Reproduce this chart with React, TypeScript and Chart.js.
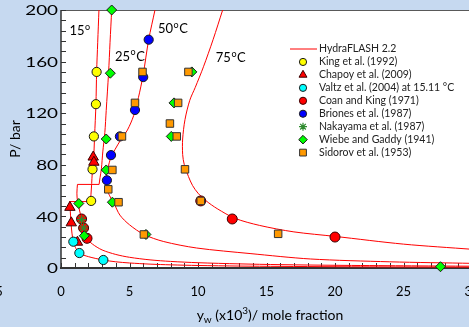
import React, { useEffect, useRef } from "react";
import { Chart, registerables } from "chart.js";
import { drawPoint } from "chart.js/helpers";

Chart.register(...registerables);

// ---------- axis ticks ----------
const xTickLabels = [0, 5, 10, 15, 20, 25, 30];
const yTickLabels = [0, 40, 80, 120, 160, 200];
const X_MINOR_STEP = 1;
const Y_MINOR_STEP = 8;

// ---------- HydraFLASH 2.2 isotherms  [y_w x10^3, P bar] ----------
const iso15Liquid: number[][] = [[2.77, 200], [2.68, 175], [2.6, 152], [2.55, 127], [2.45, 102], [2.38, 84], [2.3, 76.5], [2.22, 62], [2.15, 51.5]];
const iso15Gas: number[][] = [[0.62, 51.5], [0.66, 47], [0.73, 35], [0.8, 27], [0.9, 20.4], [1.05, 16], [1.34, 11.6], [2.0, 8.8], [3.09, 6.2], [4, 4.8], [5, 3.9], [6.5, 3.0], [8, 2.45], [10, 1.95], [13, 1.5], [16, 1.25], [20, 1.0], [25, 0.8], [30, 0.67]];
const iso25Liquid: number[][] = [[3.7, 200], [3.58, 175], [3.47, 151], [3.3, 122], [3.2, 105], [3.05, 90], [2.95, 77], [2.85, 70], [2.78, 64.8]];
const iso25Gas: number[][] = [[1.2, 64.8], [1.16, 58], [1.2, 52], [1.3, 47], [1.5, 38], [1.65, 31], [1.9, 23], [2.3, 18.5], [3, 14], [4, 10.5], [5, 8.3], [6.5, 6.3], [8, 5.1], [10, 4.1], [13, 3.2], [16, 2.6], [20, 2.1], [25, 1.7], [30, 1.4]];
const iso50: number[][] = [[6.86, 200], [6.4, 177], [6.0, 150], [5.65, 132], [5.3, 118], [4.85, 107], [4.4, 100], [3.95, 92], [3.65, 86], [3.42, 77], [3.3, 68], [3.35, 61], [3.6, 55], [3.85, 50.5], [4.3, 41], [5.0, 33.5], [6.05, 26], [7.5, 20.5], [9.9, 15.5], [13.8, 11.2], [18.2, 7], [24, 4.8], [30, 3.6]];
const iso75: number[][] = [[11.8, 200], [11.1, 177], [10.4, 156], [9.8, 140], [9.4, 130], [9.05, 115], [8.88, 100], [8.88, 88], [9.0, 80], [9.3, 71], [9.6, 64], [10.0, 58], [10.6, 52], [11.4, 46], [12.7, 38.5], [14.5, 33], [17, 28], [20, 24.5], [25, 18.5], [30, 14.5]];

// ---------- experimental data [y_w x10^3, P bar] ----------
const king: number[][] = [[2.6, 152], [2.55, 127], [2.4, 102], [2.3, 76.5], [2.2, 52]];
const chapoy: number[][] = [[2.35, 86], [2.4, 82], [0.65, 47], [0.75, 35], [1.2, 20]];
const valtz: number[][] = [[0.9, 20.4], [1.34, 11.6], [3.09, 6.2]];
const coan: number[][] = [[1.5, 38], [1.65, 31], [1.9, 23], [10.2, 52], [12.5, 38], [20, 24]];
const briones: number[][] = [[6.4, 177], [6.0, 148], [5.4, 122.5], [4.3, 102], [3.65, 87.5], [3.35, 68]];
const nakayama: number[][] = [[1.5, 37.5], [1.65, 31]];
const wiebe: number[][] = [[3.7, 200], [3.6, 151], [3.3, 100], [3.3, 76], [1.3, 50], [3.75, 51], [1.7, 25], [8.25, 128], [8.05, 102], [9.55, 152], [6.2, 26], [27.7, 1]];
const sidorov: number[][] = [[5.95, 152], [5.4, 128], [4.45, 102], [3.75, 76], [3.45, 61], [4.2, 51], [9.3, 152], [7.95, 112], [8.55, 128], [8.45, 102], [9.05, 76.5], [10.2, 52], [6.05, 26], [15.85, 26.5]];

// isotherm labels [text, x, P]
const isoLabels: [string, string, number, number][] = [
  ["15", "", 0.62, 180.6],
  ["25", "C", 3.94, 160.5],
  ["50", "C", 7.08, 182],
  ["75", "C", 11.3, 159.7],
];

const LINE_LABEL = "HydraFLASH 2.2";
const BG = "#C6D9F0";
const FONT = "Lato, 'Open Sans', sans-serif";

const xy = (a: number[][]) => a.map(([x, y]) => ({ x, y }));

type Mk = { label: string; data: number[][]; style: string; r: number; bg: string; bd: string; bw: number; order: number; lr: number };
const markers: Mk[] = [
  { label: "King et al. (1992)", data: king, style: "circle", r: 4.6, bg: "#FFFF00", bd: "#1a1a1a", bw: 1, order: 7, lr: 3.6 },
  { label: "Chapoy et al. (2009)", data: chapoy, style: "triangle", r: 6, bg: "#FF0000", bd: "#3a0000", bw: 1, order: 6, lr: 4.6 },
  { label: "Valtz et al. (2004) at 15.11 \u00B0C", data: valtz, style: "circle", r: 4.6, bg: "#00FFFF", bd: "#1a1a1a", bw: 1, order: 5, lr: 3.6 },
  { label: "Coan and King (1971)", data: coan, style: "circle", r: 5, bg: "#FF0000", bd: "#3a0000", bw: 1, order: 4, lr: 3.6 },
  { label: "Briones et al. (1987)", data: briones, style: "circle", r: 4.6, bg: "#0000FF", bd: "#1a1a1a", bw: 1, order: 3, lr: 3.6 },
  { label: "Nakayama et al. (1987)", data: nakayama, style: "star", r: 4.5, bg: "#2E8B2E", bd: "#2E8B2E", bw: 1.2, order: 2, lr: 4 },
  { label: "Wiebe and Gaddy (1941)", data: wiebe, style: "rectRot", r: 5, bg: "#00FF00", bd: "#1a1a1a", bw: 1, order: 1, lr: 4.3 },
  { label: "Sidorov et al. (1953)", data: sidorov, style: "rect", r: 5.3, bg: "#FF9900", bd: "#333333", bw: 1, order: 0, lr: 4.8 },
];

function lineDs(a: number[][], tension: number) {
  return {
    label: LINE_LABEL,
    data: xy(a),
    showLine: true,
    borderColor: "#FF0000",
    backgroundColor: "#FF0000",
    borderWidth: 1,
    pointRadius: 0,
    tension,
    order: 10,
  };
}

function drawSup(ctx: CanvasRenderingContext2D, x: number, y: number, main: string, tail: string, size: number) {
  ctx.font = `${size}px ${FONT}`;
  ctx.textAlign = "left";
  ctx.textBaseline = "alphabetic";
  ctx.fillText(main, x, y);
  let cx = x + ctx.measureText(main).width + 0.5;
  ctx.font = `${Math.round(size * 0.68)}px ${FONT}`;
  ctx.fillText("o", cx, y - size * 0.42);
  cx += ctx.measureText("o").width + 0.5;
  if (tail) {
    ctx.font = `${size}px ${FONT}`;
    ctx.fillText(tail, cx, y);
  }
}

const bgPlugin = {
  id: "bgPlugin",
  beforeDraw(chart: any) {
    const { ctx, chartArea: a } = chart;
    ctx.save();
    ctx.fillStyle = BG;
    ctx.fillRect(0, 0, chart.width, chart.height);
    ctx.fillStyle = "#FFFFFF";
    ctx.fillRect(a.left, a.top, a.right - a.left, a.bottom - a.top);
    ctx.restore();
  },
  beforeDatasetsDraw(chart: any) {
    const { ctx, chartArea: a, scales } = chart;
    const xs = scales.x, ys = scales.y;
    ctx.save();
    ctx.strokeStyle = "#595959";
    ctx.lineWidth = 1;
    ctx.beginPath();
    ctx.moveTo(a.left, a.top + 0.5);
    ctx.lineTo(a.right, a.top + 0.5);
    ctx.moveTo(a.right - 0.5, a.top);
    ctx.lineTo(a.right - 0.5, a.bottom);
    ctx.stroke();
    ctx.strokeStyle = "#333333";
    ctx.beginPath();
    for (let v = xs.min; v <= xs.max + 1e-9; v += X_MINOR_STEP) {
      const px = Math.round(xs.getPixelForValue(v)) + 0.5;
      ctx.moveTo(px, a.bottom);
      ctx.lineTo(px, a.bottom - 5);
    }
    for (let v = ys.min; v <= ys.max + 1e-9; v += Y_MINOR_STEP) {
      const py = Math.round(ys.getPixelForValue(v)) + 0.5;
      ctx.moveTo(a.left, py);
      ctx.lineTo(a.left + 5, py);
    }
    ctx.stroke();
    ctx.lineWidth = 2;
    ctx.beginPath();
    ctx.moveTo(a.left - 1, a.bottom);
    ctx.lineTo(a.right, a.bottom);
    ctx.stroke();
    ctx.lineWidth = 1.5;
    ctx.beginPath();
    ctx.moveTo(a.left, a.top);
    ctx.lineTo(a.left, a.bottom);
    ctx.stroke();
    ctx.restore();
  },
  afterDraw(chart: any) {
    const { ctx, chartArea: a, scales } = chart;
    const xs = scales.x, ys = scales.y;
    ctx.save();
    ctx.fillStyle = "#000000";
    // y tick labels (horizontally stretched like the original)
    ctx.font = `13px ${FONT}`;
    ctx.textAlign = "right";
    ctx.textBaseline = "middle";
    for (const v of yTickLabels) {
      const py = ys.getPixelForValue(v);
      ctx.save();
      ctx.translate(a.left - 3, py + 1);
      ctx.scale(1.45, 1);
      ctx.fillText(String(v), 0, 0);
      ctx.restore();
    }
    // x tick labels
    ctx.textAlign = "center";
    for (const v of xTickLabels) {
      ctx.fillText(String(v), xs.getPixelForValue(v), a.bottom + 24);
    }
    ctx.textAlign = "right";
    ctx.fillText("5", 2.7, a.bottom + 24);
    // y title
    ctx.save();
    ctx.font = `14px ${FONT}`;
    ctx.translate(15, (a.top + a.bottom) / 2);
    ctx.rotate(-Math.PI / 2);
    ctx.textAlign = "center";
    ctx.textBaseline = "middle";
    ctx.fillText("P/ bar", 0, 0);
    ctx.restore();
    // x title with subscript / superscript
    const parts: [string, number][] = [["y", 0], ["w", 1], [" (x10", 0], ["3", -1], [")/ mole fraction", 0]];
    const fontFor = (k: number) => (k === 0 ? `14px ${FONT}` : `10px ${FONT}`);
    let total = 0;
    for (const [t, k] of parts) { ctx.font = fontFor(k); total += ctx.measureText(t).width; }
    let cx = (a.left + a.right) / 2 + 3.5 - total / 2;
    const by = 320;
    ctx.textAlign = "left";
    ctx.textBaseline = "alphabetic";
    for (const [t, k] of parts) {
      ctx.font = fontFor(k);
      ctx.fillText(t, cx, by + (k === 1 ? 3 : k === -1 ? -6 : 0));
      cx += ctx.measureText(t).width;
    }
    // isotherm labels
    for (const [t, tail, x, p] of isoLabels) {
      drawSup(ctx, xs.getPixelForValue(x), ys.getPixelForValue(p), t, tail, 13);
    }
    // legend
    const lx = 303, tx = 319, ly0 = 49, step = 12.95;
    ctx.font = `10.5px ${FONT}`;
    ctx.textAlign = "left";
    ctx.textBaseline = "middle";
    ctx.strokeStyle = "#FF0000";
    ctx.lineWidth = 1;
    ctx.beginPath();
    ctx.moveTo(290, ly0);
    ctx.lineTo(317, ly0);
    ctx.stroke();
    ctx.fillStyle = "#222222";
    ctx.fillText(LINE_LABEL, tx, ly0);
    markers.forEach((m, i) => {
      const y = ly0 + step * (i + 1);
      ctx.fillStyle = m.bg;
      ctx.strokeStyle = m.bd;
      ctx.lineWidth = m.bw;
      drawPoint(ctx, { pointStyle: m.style, rotation: 0, radius: m.lr, borderWidth: m.bw } as any, lx, y);
      ctx.fillStyle = "#222222";
      ctx.fillText(m.label, tx, y);
    });
    ctx.restore();
  },
};

export default function App() {
  const ref = useRef<HTMLCanvasElement>(null);
  useEffect(() => {
    const canvas = ref.current!;
    const datasets: any[] = [
      lineDs(iso15Liquid, 0.3),
      lineDs([iso15Liquid[iso15Liquid.length - 1], iso15Gas[0]], 0),
      lineDs(iso15Gas, 0.3),
      lineDs(iso25Liquid, 0.3),
      lineDs([iso25Liquid[iso25Liquid.length - 1], iso25Gas[0]], 0),
      lineDs(iso25Gas, 0.3),
      lineDs(iso50, 0.3),
      lineDs(iso75, 0.3),
      ...markers.map((m) => ({
        label: m.label,
        data: xy(m.data),
        showLine: false,
        pointStyle: m.style,
        pointRadius: m.r,
        pointBackgroundColor: m.bg,
        pointBorderColor: m.bd,
        pointBorderWidth: m.bw,
        order: m.order,
        clip: false,
      })),
    ];
    const chart = new Chart(canvas, {
      type: "scatter",
      data: { datasets },
      options: {
        responsive: false,
        animation: false,
        devicePixelRatio: 1,
        layout: { padding: { left: 0, top: 10, right: 18, bottom: 0 } },
        plugins: { legend: { display: false }, tooltip: { enabled: false } },
        scales: {
          x: {
            type: "linear", min: 0, max: 30,
            grid: { display: false }, border: { display: false },
            ticks: { display: false },
            afterFit: (s: any) => { s.height = 59; },
          },
          y: {
            type: "linear", min: 0, max: 200,
            grid: { display: false }, border: { display: false },
            ticks: { display: false },
            afterFit: (s: any) => { s.width = 61; },
          },
        },
      } as any,
      plugins: [bgPlugin],
    });
    return () => chart.destroy();
  }, []);
  return (
    <div style={{ position: "fixed", left: 0, top: 0, width: 469, height: 327, overflow: "hidden", background: BG }}>
      <canvas ref={ref} width={490} height={327} style={{ display: "block", width: 490, height: 327 }} />
    </div>
  );
}
